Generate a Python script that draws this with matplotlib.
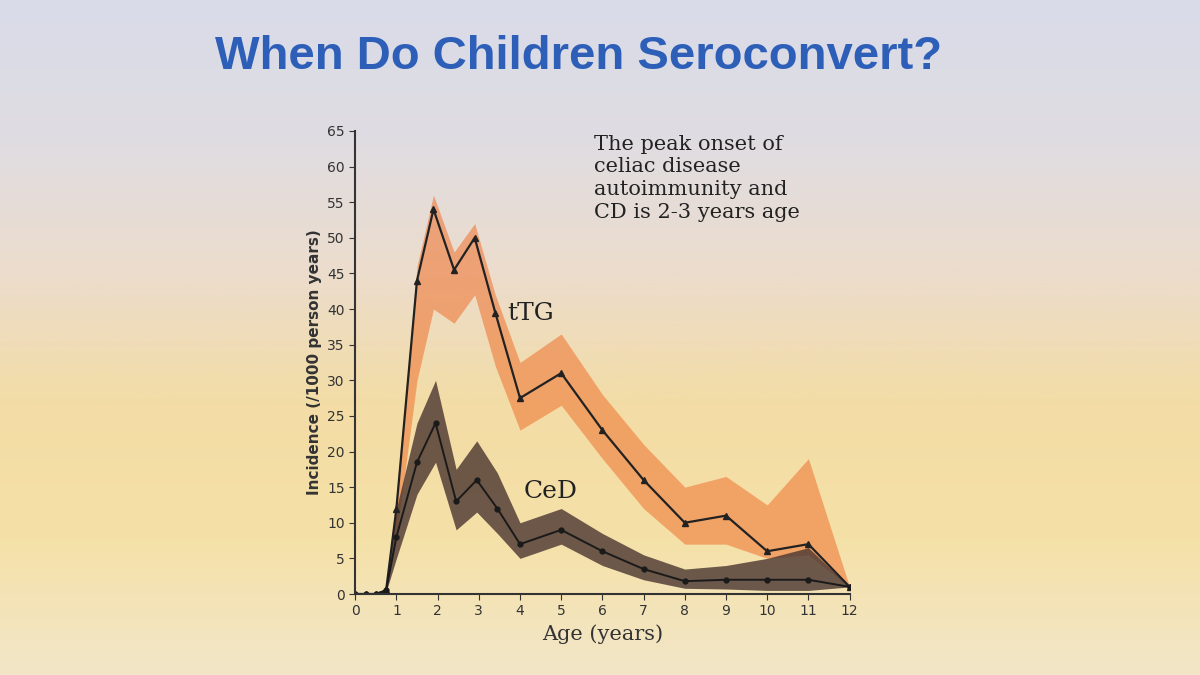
import numpy as np
import matplotlib.pyplot as plt
from matplotlib.colors import LinearSegmentedColormap

# tTG incidence (/1000 person years)
ttg_age = [0, 0.25, 0.5, 0.75, 1, 1.5, 1.9, 2.4, 2.9, 3.4, 4, 5, 6, 7, 8, 9, 10, 11, 12]
ttg_val = [0, 0, 0, 0.5, 12, 44, 54, 45.5, 50, 39.5, 27.5, 31, 23, 16, 10, 11, 6, 7, 1]
ttg_lo = [0, 0, 0, 0.3, 8, 30, 40, 38, 42, 32, 23, 26.5, 19, 12, 7, 7, 5, 5.5, 1]
ttg_hi = [0, 0, 0, 0.8, 14, 46, 56, 48, 52, 42, 32.5, 36.5, 28, 21, 15, 16.5, 12.5, 19, 1]

# CeD incidence
ced_age = [0, 0.25, 0.5, 0.75, 1, 1.5, 1.95, 2.45, 2.95, 3.45, 4, 5, 6, 7, 8, 9, 10, 11, 12]
ced_val = [0, 0, 0, 0.5, 8, 18.5, 24, 13, 16, 12, 7, 9, 6, 3.5, 1.8, 2, 2, 2, 1]
ced_lo = [0, 0, 0, 0.3, 5, 14, 18.5, 9, 11.5, 8.5, 5, 7, 4, 2, 0.8, 0.7, 0.5, 0.5, 1]
ced_hi = [0, 0, 0, 0.8, 12, 24, 30, 17.5, 21.5, 17, 10, 12, 8.5, 5.5, 3.5, 4, 5, 6.5, 1]

fig = plt.figure(figsize=(12, 6.75), dpi=100)

# slide background: bluish top fading to warm yellow
bg = fig.add_axes([0, 0, 1, 1], zorder=-1)
cmap = LinearSegmentedColormap.from_list('bg', ['#d9dbe9', '#dfdde2', '#ecdccd', '#f3dca5', '#f5e1a8', '#f2e6c8'])
grad = np.linspace(0, 1, 256).reshape(-1, 1)
bg.imshow(grad, aspect='auto', cmap=cmap, extent=[0, 1, 0, 1], origin='upper')
bg.axis('off')
fig.patch.set_facecolor('#e6e6ee')

fig.text(0.482, 0.915, 'When Do Children Seroconvert?', color='#2e5fb8',
         fontsize=34, fontweight='bold', ha='center', va='center', family='Liberation Sans')

ax = fig.add_axes([0.296, 0.12, 0.412, 0.686])
ax.patch.set_alpha(0)

ax.fill_between(ttg_age, ttg_lo, ttg_hi, color='#ef7a3a', alpha=0.6, linewidth=0)
ax.plot(ttg_age, ttg_val, color='#222222', lw=1.6, marker='^', ms=4)
ax.fill_between(ced_age, ced_lo, ced_hi, color='#4a3530', alpha=0.8, linewidth=0)
ax.plot(ced_age, ced_val, color='#1a1a1a', lw=1.4, marker='o', ms=3.5)

ax.set_xlim(0, 12)
ax.set_ylim(0, 65)
ax.set_xticks(range(13))
ax.set_yticks(range(0, 66, 5))
ax.tick_params(labelsize=10, colors='#333333', length=4)
for s in ['top', 'right']:
    ax.spines[s].set_visible(False)
for s in ['left', 'bottom']:
    ax.spines[s].set_color('#333333')
    ax.spines[s].set_linewidth(1.5)
ax.set_xlabel('Age (years)', fontsize=15, color='#333333', family='DejaVu Serif')
ax.set_ylabel('Incidence (/1000 person years)', fontsize=11, fontweight='bold', color='#333333')

ax.text(3.7, 38.5, 'tTG', fontsize=18, color='#222222', family='DejaVu Serif')
ax.text(4.1, 13.5, 'CeD', fontsize=18, color='#222222', family='DejaVu Serif')
ax.text(5.8, 64.5, 'The peak onset of\nceliac disease\nautoimmunity and\nCD is 2-3 years age',
        fontsize=15, color='#222222', va='top', linespacing=1.25, family='DejaVu Serif')

fig.savefig('out.png', dpi=100)
